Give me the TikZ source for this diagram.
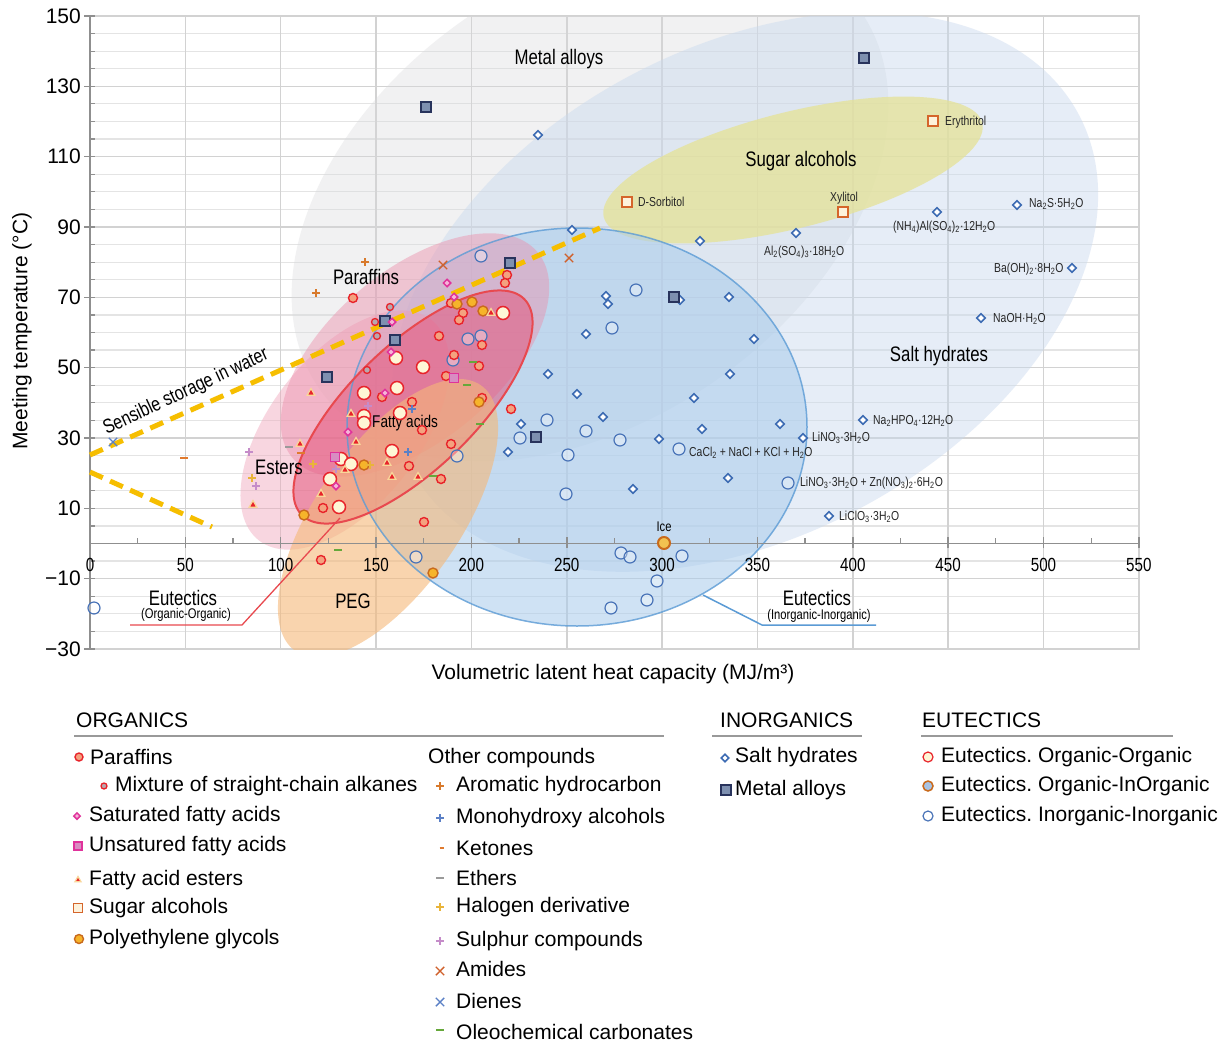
\documentclass[tikz,border=0pt]{standalone}
\usepackage{fontspec}
\setmainfont{Liberation Sans}
\newfontfamily\condfont[FakeStretch=0.8]{Liberation Sans}
\usetikzlibrary{shapes.geometric,shapes.misc}
\frenchspacing

\newcommand{\chemsub}[1]{\textsubscript{#1}}

% chart colours
\definecolor{gridc}{HTML}{E4E4E4}
\definecolor{gridmaj}{HTML}{D2D2D2}
\definecolor{axisc}{HTML}{8F8F8F}
\definecolor{metalreg}{HTML}{D8D9DC}
\definecolor{saltreg}{HTML}{C9D9EE}
\definecolor{sugarreg}{HTML}{E5E296}
\definecolor{eiireg}{HTML}{A9CBEC}
\definecolor{eiiline}{HTML}{5B9BD5}
\definecolor{pegreg}{HTML}{F5B878}
\definecolor{esterreg}{HTML}{F0A6BB}
\definecolor{parafreg}{HTML}{EC8FAB}
\definecolor{fattyreg}{HTML}{E44D75}
\definecolor{fattyline}{HTML}{E8494F}
\definecolor{waterc}{HTML}{F6BE00}
% marker colours
\definecolor{redmk}{HTML}{E8232A}
\definecolor{salmonmk}{HTML}{F4A27F}
\definecolor{mixfill}{HTML}{B9A7AE}
\definecolor{creamfill}{HTML}{FEF6D6}
\definecolor{pegline}{HTML}{C96A1C}
\definecolor{pegfill}{HTML}{F6B42A}
\definecolor{eoifill}{HTML}{A8C3E3}
\definecolor{eiimk}{HTML}{4A74B8}
\definecolor{saltmk}{HTML}{3C6BB3}
\definecolor{metalline}{HTML}{28335C}
\definecolor{metalfill}{HTML}{7E90B0}
\definecolor{sugarline}{HTML}{D5652B}
\definecolor{sugarfill}{HTML}{FDF2DC}
\definecolor{magmk}{HTML}{E0329B}
\definecolor{magfill}{HTML}{F6B5D8}
\definecolor{unsatfill}{HTML}{D88CC2}
\definecolor{esterhalo}{HTML}{F9D79A}
\definecolor{aromc}{HTML}{D87A2C}
\definecolor{monoc}{HTML}{5B80C6}
\definecolor{ketc}{HTML}{E07A2E}
\definecolor{etherc}{HTML}{9A9A9A}
\definecolor{halc}{HTML}{E9B43A}
\definecolor{sulphc}{HTML}{C58CC9}
\definecolor{amidc}{HTML}{D0612C}
\definecolor{dienec}{HTML}{5B80C6}
\definecolor{oleoc}{HTML}{66A83A}
\definecolor{icefill}{HTML}{F2C250}

\begin{document}
\begin{tikzpicture}[x=1pt, y=-1pt,
  ticky/.style={font=\fontsize{21}{22}\selectfont, anchor=east, inner sep=0pt},
  tickx/.style={font=\condfont\fontsize{19}{20}\selectfont, inner sep=0pt},
  axlabel/.style={font=\fontsize{21}{22}\selectfont, inner sep=0pt},
  region/.style={font=\condfont\fontsize{21}{22}\selectfont, inner sep=0pt},
  sublabel/.style={font=\condfont\fontsize{14}{15}\selectfont, inner sep=0pt},
  cmp/.style={font=\condfont\fontsize{13}{14}\selectfont, inner sep=0pt, anchor=west, text=black!85},
  legtext/.style={font=\fontsize{21}{22}\selectfont, inner sep=0pt, anchor=west},
  legline/.style={draw=gray!80, line width=2pt},
  paraf/.style={circle, draw=redmk, line width=1.4pt, fill=salmonmk, inner sep=0pt, minimum size=9pt},
  mixt/.style={circle, draw=redmk, line width=1.3pt, fill=mixfill, inner sep=0pt, minimum size=7pt},
  eoo/.style={circle, draw=redmk, line width=1.5pt, fill=creamfill, inner sep=0pt, minimum size=13pt},
  eoi/.style={circle, draw=pegline, line width=1.5pt, fill=eoifill, inner sep=0pt, minimum size=10pt},
  eii/.style={circle, draw=eiimk, line width=1.2pt, fill=white, fill opacity=0.35, inner sep=0pt, minimum size=12pt},
  pegmk/.style={circle, draw=pegline, line width=1.4pt, fill=pegfill, inner sep=0pt, minimum size=10pt},
  icemk/.style={circle, draw=pegline, line width=2pt, fill=icefill, inner sep=0pt, minimum size=12pt},
  salt/.style={diamond, draw=saltmk, line width=1.6pt, fill=white, inner sep=0pt, minimum size=9pt},
  metal/.style={rectangle, draw=metalline, line width=1.4pt, fill=metalfill, inner sep=0pt, minimum size=10pt},
  sugar/.style={rectangle, draw=sugarline, line width=1.3pt, fill=sugarfill, inner sep=0pt, minimum size=10pt},
  satfa/.style={diamond, draw=magmk, line width=1.5pt, fill=magfill, inner sep=0pt, minimum size=8pt},
  unsatfa/.style={rectangle, draw=magmk, line width=1.3pt, fill=unsatfill, inner sep=0pt, minimum size=9pt},
  ester/.style={regular polygon, regular polygon sides=3, draw=esterhalo, line width=1.2pt, fill=redmk, inner sep=0pt, minimum size=9pt},
  crossmk/.style={cross out, draw, line width=1.4pt, inner sep=0pt, minimum size=7pt},
  plusmk/.pic={\draw[line width=1.3pt] (-4,0) -- (4,0) (0,-4) -- (0,4);},
  dashmk/.pic={\draw[line width=2.4pt] (-4,0) -- (4,0);}
]
\useasboundingbox (0,0) rectangle (1225,1044);
\fill[white] (0,0) rectangle (1225,1044);

% grid
\foreach \v in {-30,-25,...,150}
  \draw[gridc, line width=1.2pt] (90,{543.5-3.517*\v}) -- (1139,{543.5-3.517*\v});
\foreach \v in {-30,-10,...,150}
  \draw[gridmaj, line width=1.5pt] (90,{543.5-3.517*\v}) -- (1139,{543.5-3.517*\v});
\foreach \u in {50,100,...,500}
  \draw[gridmaj, line width=1.5pt] ({90+1.907*\u},16) -- ({90+1.907*\u},649);
\draw[gridmaj, line width=2pt] (90,16) -- (1139,16) -- (1139,649) -- (90,649);

% shaded groups
\begin{scope}
\clip (90,16) rectangle (1139,649);
\fill[metalreg, fill opacity=0.35, rotate around={35:(590,200)}] (590,200) ellipse [x radius=330, y radius=220];
\fill[saltreg, fill opacity=0.45, rotate around={28:(745,292)}] (745,292) ellipse [x radius=378, y radius=245];
\fill[sugarreg, fill opacity=0.75, rotate around={14:(793,170)}] (793,170) ellipse [x radius=195, y radius=58];
\fill[eiireg, fill opacity=0.55] (577,427) ellipse [x radius=230, y radius=199];
\fill[esterreg, fill opacity=0.45, rotate around={52:(345,430)}] (345,430) ellipse [x radius=140, y radius=75];
\fill[parafreg, fill opacity=0.45, rotate around={40:(415,355)}] (415,355) ellipse [x radius=160, y radius=85];
\fill[fattyreg, fill opacity=0.5, rotate around={44:(413,407)}] (413,407) ellipse [x radius=155, y radius=62];
\fill[pegreg, fill opacity=0.6, rotate around={55:(388,518)}] (388,518) ellipse [x radius=162, y radius=72];
\draw[eiiline, line width=1.5pt, draw opacity=0.8] (577,427) ellipse [x radius=230, y radius=199];
\draw[fattyline, line width=2pt, rotate around={44:(413,407)}] (413,407) ellipse [x radius=155, y radius=62];
\end{scope}

% axes
\draw[axisc, line width=2pt] (90,16) -- (90,649);
\draw[axisc, line width=1.6pt] (90,543.5) -- (1139,543.5);
\foreach \v in {-30,-25,...,150}
  \draw[axisc, line width=1.2pt] (90,{543.5-3.517*\v}) -- (95,{543.5-3.517*\v});
\foreach \v [count=\i] in {-30,-10,...,150} {
  \draw[axisc, line width=1.5pt] (84,{543.5-3.517*\v}) -- (90,{543.5-3.517*\v});
  \node[ticky] (ty\i) at (81,{543.5-3.517*\v}) {\ifnum\v<0 −\the\numexpr-\v\relax\else\v\fi};
}
\foreach \u in {25,75,...,525}
  \draw[axisc, line width=1.3pt] ({90+1.907*\u},543.5) -- ({90+1.907*\u},538);
\foreach \u [count=\i] in {0,50,...,550} {
  \draw[axisc, line width=1.5pt] ({90+1.907*\u},548) -- ({90+1.907*\u},537);
  \node[tickx] (tx\i) at ({90+1.907*\u},565) {\u};
}
\node[axlabel, rotate=90] (ylab) at (22,331) {Meeting temperature (°C)};
\node[axlabel] (xlab) at (613,674) {Volumetric latent heat capacity (MJ/m³)};

% sensible storage in water
\coordinate (w1) at (90,455);
\coordinate (w2) at (600,228);
\coordinate (w3) at (90,472);
\coordinate (w4) at (212,527);
\draw[waterc, line width=5pt, dash pattern=on 14pt off 8pt] (w1) -- (w2);
\draw[waterc, line width=5pt, dash pattern=on 14pt off 8pt] (w3) -- (w4);
\node[region, font=\condfont\fontsize{20}{21}\selectfont, rotate=25] (water) at (186,392) {Sensible storage in water};

% group labels
\node[region] (lmetal) at (559,59) {Metal alloys};
\node[region] (lsugar) at (801,161) {Sugar alcohols};
\node[region] (lsalt) at (939,356) {Salt hydrates};
\node[region] (lparaf) at (366,277) {Paraffins};
\node[region] (lester) at (279,467) {Esters};
\node[region, font=\condfont\fontsize{17}{18}\selectfont, anchor=west] (lfatty) at (372,423) {Fatty acids};
\node[region] (lpeg) at (353,601) {PEG};
\node[region] (leoo) at (183,598) {Eutectics};
\node[sublabel] (leoosub) at (186,615) {(Organic-Organic)};
\node[region] (leii) at (817,598) {Eutectics};
\node[sublabel] (leiisub) at (819,616) {(Inorganic-Inorganic)};
\node[sublabel] (lice) at (664,527) {Ice};

% pointer lines
\coordinate (poo) at (340,518);
\coordinate (poo2) at (242,625);
\coordinate (poo3) at (130,625);
\draw[fattyline, line width=1.3pt] (poo) -- (poo2) -- (poo3);
\coordinate (pii) at (703,595);
\coordinate (pii2) at (762,625);
\coordinate (pii3) at (876,625);
\draw[eiiline, line width=1.5pt] (pii) -- (pii2) -- (pii3);

% data points
\foreach \x/\y [count=\i] in {481/256, 636/290, 612/328, 468/339, 481/336, 453/360, 547/420, 520/438, 586/431, 620/440, 457/456, 568/455, 679/449, 566/494, 788/483, 416/557, 621/553, 630/557, 682/556, 657/581, 647/600, 611/608, 94/608}
  \node[eii] (eii\i) at (\x,\y) {};
\foreach \x/\y [count=\i] in {538/135, 572/230, 700/241, 796/233, 606/296, 608/304, 680/300, 729/297, 937/212, 1017/205, 1072/268, 981/318, 586/334, 754/339, 548/374, 730/374, 577/394, 694/398, 603/417, 521/424, 702/429, 780/424, 659/439, 508/452, 728/478, 633/489, 803/438, 863/420, 829/516}
  \node[salt] (salt\i) at (\x,\y) {};
\foreach \x/\y [count=\i] in {864/58, 426/107, 385/321, 395/340, 327/377, 510/263, 674/297, 536/437}
  \node[metal] (met\i) at (\x,\y) {};
\foreach \x/\y [count=\i] in {627/202, 843/212, 933/121}
  \node[sugar] (sug\i) at (\x,\y) {};
\foreach \x/\y [count=\i] in {353/298, 507/275, 505/283, 451/303, 463/313, 459/320, 439/336, 482/345, 454/355, 479/366, 446/376, 382/397, 412/402, 482/398, 511/409, 422/430, 451/444, 409/466, 441/479, 424/522, 323/508, 321/560}
  \node[paraf] (par\i) at (\x,\y) {};
\foreach \x/\y [count=\i] in {390/307, 375/322, 377/336, 367/370}
  \node[mixt] (mix\i) at (\x,\y) {};
\foreach \x/\y [count=\i] in {396/358, 423/367, 397/388, 364/393, 400/413, 364/416, 364/423, 392/451, 341/459, 351/464, 330/479, 339/507, 503/313}
  \node[eoo] (eoo\i) at (\x,\y) {};
\foreach \x/\y [count=\i] in {457/304, 472/302, 483/311, 479/402, 304/515, 364/465, 433/573}
  \node[pegmk] (peg\i) at (\x,\y) {};
\foreach \x/\y [count=\i] in {447/283, 454/297, 392/322, 391/352, 385/393, 348/432, 336/486}
  \node[satfa] (sfa\i) at (\x,\y) {};
\foreach \x/\y [count=\i] in {454/378, 335/457}
  \node[unsatfa] (ufa\i) at (\x,\y) {};
\foreach \x/\y [count=\i] in {311/393, 351/414, 356/442, 300/444, 345/470, 387/463, 392/477, 418/477, 321/494, 253/505, 491/313}
  \node[ester] (est\i) at (\x,\y) {};
\foreach \x/\y in {365/262, 316/293}
  \pic[color=aromc] at (\x,\y) {plusmk};
\foreach \x/\y in {412/409, 408/452}
  \pic[color=monoc] at (\x,\y) {plusmk};
\foreach \x/\y in {313/464, 252/478, 370/465}
  \pic[color=halc] at (\x,\y) {plusmk};
\foreach \x/\y in {249/452, 256/486, 368/406, 336/469}
  \pic[color=sulphc] at (\x,\y) {plusmk};
\foreach \x/\y in {184/458, 301/453}
  \pic[color=ketc] at (\x,\y) {dashmk};
\pic[color=etherc] at (289,447) {dashmk};
\foreach \x/\y in {338/550, 473/362, 467/385, 480/424, 433/476}
  \pic[color=oleoc] at (\x,\y) {dashmk};
\foreach \x/\y [count=\i] in {443/265, 569/258}
  \node[crossmk, amidc] (amid\i) at (\x,\y) {};
\node[crossmk, dienec] (dien1) at (113,442) {};
\node[icemk] (ice) at (664,543) {};

% compound names
\node[cmp] (nsorb) at (638,202) {D-Sorbitol};
\node[cmp] (neryt) at (945,122) {Erythritol};
\node[cmp, anchor=center] (nxyl) at (844,198) {Xylitol};
\node[cmp] (nals) at (764,252) {Al\chemsub{2}(SO\chemsub{4})\chemsub{3}·18H\chemsub{2}O};
\node[cmp] (nnh4) at (893,227) {(NH\chemsub{4})Al(SO\chemsub{4})\chemsub{2}·12H\chemsub{2}O};
\node[cmp] (nna2s) at (1029,204) {Na\chemsub{2}S·5H\chemsub{2}O};
\node[cmp] (nbaoh) at (994,269) {Ba(OH)\chemsub{2}·8H\chemsub{2}O};
\node[cmp] (nnaoh) at (993,319) {NaOH·H\chemsub{2}O};
\node[cmp] (nnahpo) at (873,421) {Na\chemsub{2}HPO\chemsub{4}·12H\chemsub{2}O};
\node[cmp] (nlino) at (812,438) {LiNO\chemsub{3}·3H\chemsub{2}O};
\node[cmp] (ncacl) at (689,453) {CaCl\chemsub{2} + NaCl + KCl + H\chemsub{2}O};
\node[cmp] (nlizn) at (800,483) {LiNO\chemsub{3}·3H\chemsub{2}O + Zn(NO\chemsub{3})\chemsub{2}·6H\chemsub{2}O};
\node[cmp] (nlicl) at (839,517) {LiClO\chemsub{3}·3H\chemsub{2}O};

% legend: organics
\node[legtext] (horg) at (76,720) {ORGANICS};
\draw[legline] (74,736) -- (664,736);
\node[paraf, minimum size=8pt] (mk1) at (79,757) {};
\node[legtext] (lg1) at (90,757) {Paraffins};
\node[mixt, minimum size=6pt] (mk2) at (104,786) {};
\node[legtext] (lg2) at (115,786) {Mixture of straight-chain alkanes};
\node[satfa, minimum size=7pt] (mk3) at (77,816) {};
\node[legtext] (lg3) at (89,816) {Saturated fatty acids};
\node[unsatfa, minimum size=8pt] (mk4) at (78,846) {};
\node[legtext] (lg4) at (89,846) {Unsatured fatty acids};
\node[ester, minimum size=7pt] (mk5) at (78,880) {};
\node[legtext] (lg5) at (89,880) {Fatty acid esters};
\node[sugar, minimum size=9pt] (mk6) at (78,908) {};
\node[legtext] (lg6) at (89,908) {Sugar alcohols};
\node[pegmk, minimum size=9pt] (mk7) at (79,939) {};
\node[legtext] (lg7) at (89,939) {Polyethylene glycols};

\node[legtext] (lgoth) at (428,758) {Other compounds};
\pic[color=aromc] at (440,786) {plusmk};
\node[legtext] (lg8) at (456,786) {Aromatic hydrocarbon};
\pic[color=monoc] at (440,818) {plusmk};
\node[legtext] (lg9) at (456,818) {Monohydroxy alcohols};
\pic[color=ketc, scale=0.6] at (442,848) {dashmk};
\node[legtext] (lg10) at (456,848) {Ketones};
\pic[color=etherc] at (440,878) {dashmk};
\node[legtext] (lg11) at (456,878) {Ethers};
\pic[color=halc] at (440,907) {plusmk};
\node[legtext] (lg12) at (456,907) {Halogen derivative};
\pic[color=sulphc] at (440,941) {plusmk};
\node[legtext] (lg13) at (456,941) {Sulphur compounds};
\node[crossmk, amidc] (mk14) at (440,971) {};
\node[legtext] (lg14) at (456,969) {Amides};
\node[crossmk, dienec] (mk15) at (440,1002) {};
\node[legtext] (lg15) at (456,1001) {Dienes};
\pic[color=oleoc] at (440,1030) {dashmk};
\node[legtext] (lg16) at (456,1032) {Oleochemical carbonates};

% legend: inorganics
\node[legtext] (hinorg) at (720,720) {INORGANICS};
\draw[legline] (712,736) -- (862,736);
\node[salt, minimum size=8pt] (mk17) at (725,758) {};
\node[legtext] (lg17) at (735,757) {Salt hydrates};
\node[metal, minimum size=10pt] (mk18) at (726,790) {};
\node[legtext] (lg18) at (735,790) {Metal alloys};

% legend: eutectics
\node[legtext] (heut) at (922,720) {EUTECTICS};
\draw[legline] (921,736) -- (1173,736);
\node[eoo, minimum size=10pt, line width=1.2pt] (mk19) at (928,757) {};
\node[legtext] (lg19) at (941,757) {Eutectics. Organic-Organic};
\node[eoi, minimum size=10pt] (mk20) at (928,786) {};
\node[legtext] (lg20) at (941,786) {Eutectics. Organic-InOrganic};
\node[eii, minimum size=10pt, fill opacity=1] (mk21) at (928,816) {};
\node[legtext] (lg21) at (941,816) {Eutectics. Inorganic-Inorganic};
\end{tikzpicture}
\end{document}
